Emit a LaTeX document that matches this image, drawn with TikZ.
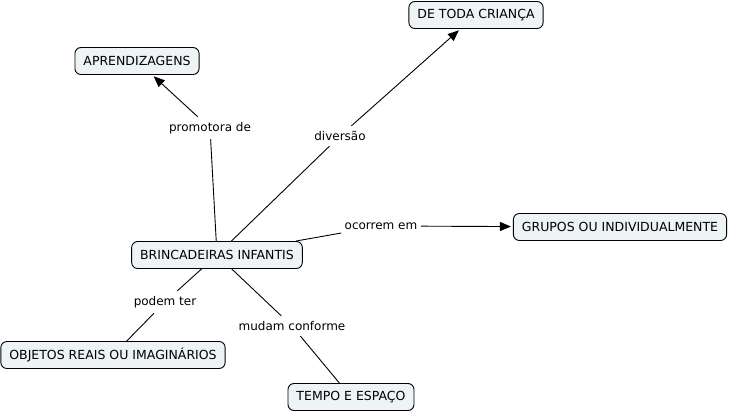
\documentclass[tikz,border=0pt]{standalone}
\usepackage{fontspec}
\setmainfont{DejaVu Sans}
\usetikzlibrary{arrows.meta}
\definecolor{conceptfill}{HTML}{EEF3F5}

\begin{document}
\begin{tikzpicture}[x=1pt,y=-1pt,line width=0.9pt,
  concept node/.style={rectangle,rounded corners=6pt,draw=black,fill=conceptfill,
    line width=0.9pt,minimum height=27pt,inner xsep=8.5pt,
    font=\fontsize{12.5}{15}\selectfont},
  link node/.style={inner xsep=3pt,inner ysep=5pt,font=\fontsize{12}{14}\selectfont},
  arrow/.style={-{Triangle[length=11pt,width=9pt]},shorten >=2pt}]

  \useasboundingbox (0,0) rectangle (729,413);

  \node[concept node] (brinc) at (217,255) {BRINCADEIRAS INFANTIS};
  \node[concept node] (crianca) at (476,15) {DE TODA CRIANÇA};
  \node[concept node] (aprend) at (137,61) {APRENDIZAGENS};
  \node[concept node] (grupos) at (620,227) {GRUPOS OU INDIVIDUALMENTE};
  \node[concept node] (objetos) at (113,355) {OBJETOS REAIS OU IMAGINÁRIOS};
  \node[concept node] (tempo) at (351,397) {TEMPO E ESPAÇO};

  \node[link node] (promo) at (210,128) {promotora de};
  \node[link node] (divers) at (340,136) {diversão};
  \node[link node] (ocorr) at (381,226) {ocorrem em};
  \node[link node] (podem) at (165,302) {podem ter};
  \node[link node] (mudam) at (292,326) {mudam conforme};

  \path[draw]
    (brinc) edge (promo)
    (promo) edge[arrow] (aprend)
    (brinc) edge (divers)
    (divers) edge[arrow] (crianca)
    (brinc) edge (ocorr)
    (ocorr) edge[arrow] (grupos)
    (brinc) edge (podem)
    (podem) edge (objetos)
    (brinc) edge (mudam)
    (mudam) edge (tempo);
\end{tikzpicture}
\end{document}
